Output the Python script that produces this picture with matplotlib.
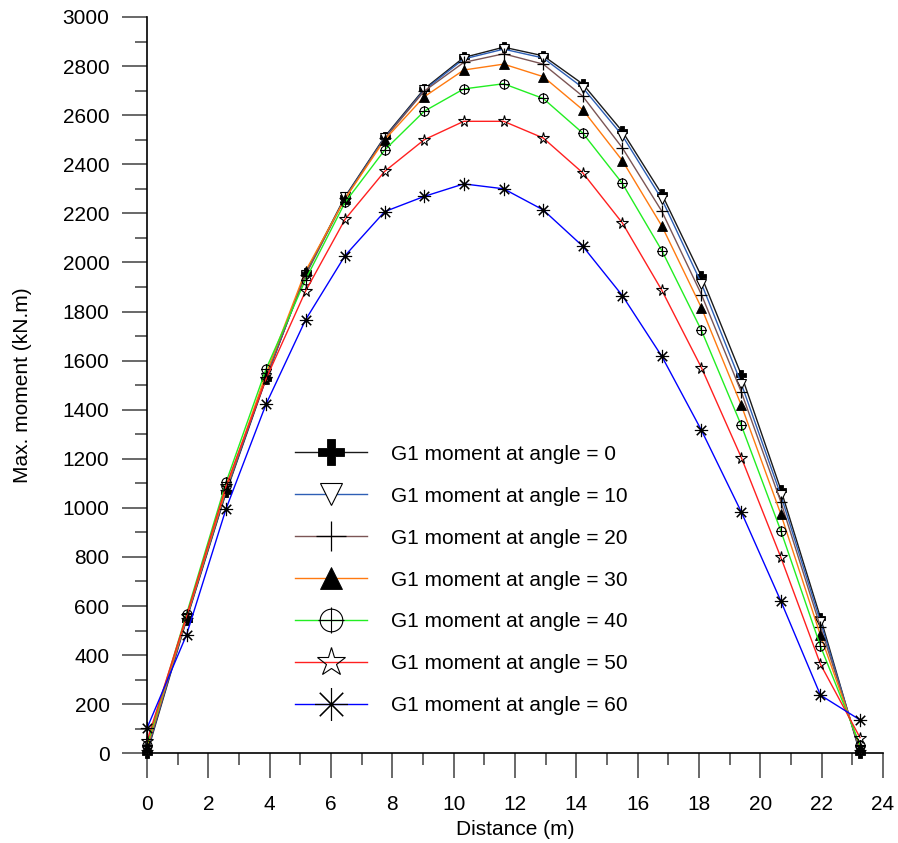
import numpy as np
import matplotlib
matplotlib.use('Agg')
import matplotlib.pyplot as plt
from matplotlib.path import Path
from matplotlib.ticker import MultipleLocator

plt.rcParams['font.family'] = ['Liberation Sans', 'DejaVu Sans']

# ── Data ──────────────────────────────────────────────────────────────────────
distance = [0, 1.29, 2.58, 3.88, 5.17, 6.46, 7.75, 9.04, 10.33, 11.63,
            12.92, 14.21, 15.5, 16.79, 18.08, 19.38, 20.67, 21.96, 23.25]

m_0  = [0, 545, 1063, 1525, 1955, 2268, 2512, 2707, 2835, 2877,
        2842, 2727, 2534, 2278, 1943, 1542, 1074, 553, 0]
m_10 = [8, 550, 1068, 1530, 1950, 2265, 2508, 2702, 2829, 2869,
        2833, 2712, 2517, 2257, 1914, 1506, 1051, 536, 8]
m_20 = [15, 552, 1072, 1535, 1948, 2262, 2505, 2698, 2815, 2850,
        2808, 2677, 2467, 2208, 1869, 1472, 1024, 515, 14]
m_30 = [25, 555, 1080, 1545, 1965, 2260, 2500, 2675, 2784, 2808,
        2757, 2622, 2415, 2148, 1815, 1418, 974, 481, 25]
m_40 = [35, 568, 1105, 1565, 1930, 2245, 2458, 2616, 2707, 2728,
        2668, 2527, 2322, 2048, 1723, 1336, 906, 437, 34]
m_50 = [50, 560, 1090, 1525, 1883, 2176, 2371, 2500, 2575, 2575,
        2507, 2365, 2161, 1886, 1571, 1205, 798, 363, 64]
m_60 = [102, 483, 997, 1422, 1766, 2028, 2207, 2269, 2320, 2300,
        2214, 2066, 1865, 1617, 1316, 983, 620, 237, 136]

angles = [0, 10, 20, 30, 40, 50, 60]

# ── Styles ────────────────────────────────────────────────────────────────────
# vòng tròn có dấu cộng (marker góc 40)
circ_cross = Path.make_compound_path(
    Path.unit_circle(),
    Path([[-1.15, 0], [1.15, 0]], [Path.MOVETO, Path.LINETO]),
    Path([[0, -1.15], [0, 1.15]], [Path.MOVETO, Path.LINETO]),
)

styles = [
    dict(color='#1a1a1a', marker='P', mfc='black', ms=7.5, mew=0.6),
    dict(color='#2e5fb5', marker='v', mfc='white', ms=6.5, mew=0.8),
    dict(color='#7b5555', marker='+', mfc='none', ms=8.5, mew=0.9),
    dict(color='#ff7a10', marker='^', mfc='black', ms=6.5, mew=0.6),
    dict(color='#22ee22', marker=circ_cross, mfc='none', ms=7.5, mew=0.8),
    dict(color='#ff2020', marker='*', mfc='none', ms=8.5, mew=0.8),
    dict(color='#0000ff', marker=(8, 2, 0), mfc='none', ms=9.5, mew=0.8),
]
series = [m_0, m_10, m_20, m_30, m_40, m_50, m_60]

# ── Plot ──────────────────────────────────────────────────────────────────────
fig = plt.figure(figsize=(8.98, 8.43), dpi=100)
ax = fig.add_axes([147/898, 89.7/843, 736/898, 736.3/843])

handles = []
for ang, vals, st in zip(angles, series, styles):
    ln, = ax.plot(distance, vals, color=st['color'], lw=1.0,
                  marker=st['marker'], ms=st['ms'], mfc=st['mfc'],
                  mec='black', mew=st['mew'], clip_on=False,
                  label=f'G1 moment at angle = {ang}')
    handles.append(ln)

ax.set_xlim(0, 24)
ax.set_ylim(0, 3000)
ax.xaxis.set_major_locator(MultipleLocator(2))
ax.xaxis.set_minor_locator(MultipleLocator(1))
ax.yaxis.set_major_locator(MultipleLocator(200))
ax.yaxis.set_minor_locator(MultipleLocator(100))

for s in ['top', 'right']:
    ax.spines[s].set_visible(False)
for s in ['left', 'bottom']:
    ax.spines[s].set_linewidth(1.2)
    ax.spines[s].set_color('black')

ax.tick_params(which='major', direction='out', length=18, width=1.1,
               color='#404040', labelsize=15)
ax.tick_params(which='minor', direction='out', length=8.6, width=1.1,
               color='#404040')
ax.tick_params(axis='x', which='major', pad=12)
ax.tick_params(axis='y', which='major', pad=9)

ax.set_xlabel('Distance (m)', fontsize=15, labelpad=4)
ax.set_ylabel('Max. moment (kN.m)', fontsize=15, labelpad=22)

ax.legend(handles=handles, loc='upper left', bbox_to_anchor=(0.201, 0.419),
          frameon=False, fontsize=15, markerscale=2.5, handlelength=3.45,
          handletextpad=1.15, labelspacing=1.1, borderpad=0, borderaxespad=0)

fig.savefig('out.png', dpi=100, facecolor='white')
